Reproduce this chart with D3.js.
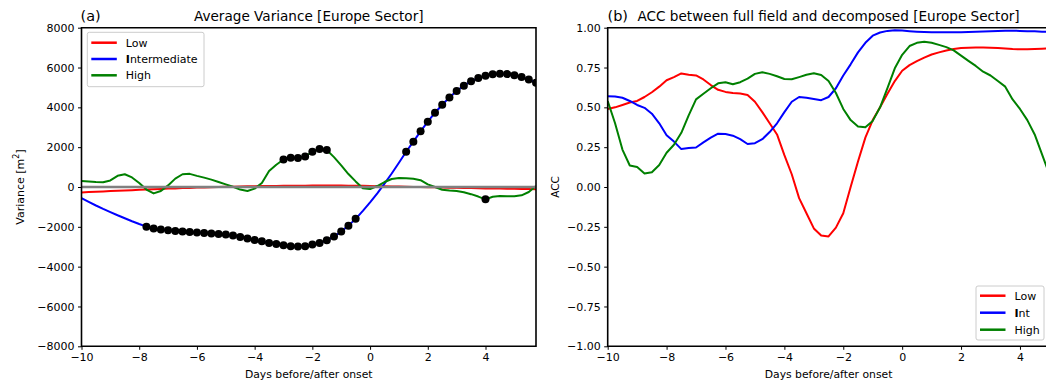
<!DOCTYPE html>
<html>
<head>
<meta charset="utf-8">
<script src="https://cdn.jsdelivr.net/npm/d3@7"></script>
<style>
  body { margin: 0; background: #fff; }
  svg { font-family: "DejaVu Sans", sans-serif; }
</style>
</head>
<body>
<div id="chart"></div>
<script>
// days before/after onset, 6-hourly
const days = [
  -10, -9.75, -9.5, -9.25, -9, -8.75, -8.5, -8.25, -8, -7.75, -7.5, -7.25, -7, -6.75, -6.5, -6.25,
  -6, -5.75, -5.5, -5.25, -5, -4.75, -4.5, -4.25, -4, -3.75, -3.5, -3.25, -3, -2.75, -2.5, -2.25,
  -2, -1.75, -1.5, -1.25, -1, -0.75, -0.5, -0.25, 0, 0.25, 0.5, 0.75, 1, 1.25, 1.5, 1.75,
  2, 2.25, 2.5, 2.75, 3, 3.25, 3.5, 3.75, 4, 4.25, 4.5, 4.75, 5, 5.25, 5.5, 5.75
];

// (a) average variance [m^2]
const varLow = [
  -270, -255, -240, -225, -205, -190, -175, -160, -140, -125, -110, -95, -80, -70, -55, -45,
  -30, -20, -10, 0, 10, 18, 25, 32, 40, 45, 50, 55, 60, 62, 65, 68,
  70, 70, 70, 70, 70, 68, 65, 60, 50, 42, 35, 27, 20, 12, 5, -2,
  -10, -18, -25, -32, -40, -48, -55, -62, -70, -75, -80, -85, -90, -97, -104, -110
];
const varInt = [
  -560, -750, -930, -1100, -1260, -1420, -1570, -1720, -1860, -1990, -2090, -2140, -2175, -2210, -2240, -2260,
  -2290, -2310, -2330, -2360, -2390, -2440, -2510, -2590, -2660, -2730, -2810, -2860, -2930, -2980, -2990, -2980,
  -2890, -2810, -2680, -2490, -2240, -1940, -1600, -1200, -770, -320, 170, 680, 1220, 1770, 2275, 2795,
  3280, 3730, 4130, 4500, 4820, 5090, 5310, 5470, 5590, 5660, 5690, 5670, 5610, 5520, 5400, 5230
];
const varHigh = [
  300, 280, 250, 235, 330, 560, 640, 480, 200, -130, -320, -200, 80, 420, 640, 660,
  560, 470, 370, 250, 130, 10, -130, -200, -80, 200, 800, 1120, 1380, 1470, 1460, 1530,
  1770, 1910, 1860, 1500, 1090, 650, 280, -60, -100, 50, 250, 400, 450, 440, 410, 340,
  130, 0, -140, -180, -200, -260, -360, -480, -620, -490, -450, -460, -470, -420, -250, 50
];
// days marked with a dot
const intDots = [
  -7.75, -7.5, -7.25, -7, -6.75, -6.5, -6.25, -6, -5.75, -5.5, -5.25, -5, -4.75, -4.5, -4.25,
  -4, -3.75, -3.5, -3.25, -3, -2.75, -2.5, -2.25, -2, -1.75, -1.5, -1.25, -1, -0.75, -0.5,
  1.25, 1.5, 1.75, 2, 2.25, 2.5, 2.75, 3, 3.25, 3.5, 3.75, 4, 4.25, 4.5, 4.75, 5, 5.25, 5.5, 5.75
];
const highDots = [-3, -2.75, -2.5, -2.25, -2, -1.75, -1.5, 4];

// (b) ACC, days -10 .. 5
const accLow = [
  0.49, 0.50, 0.515, 0.53, 0.54, 0.565, 0.595, 0.63, 0.67, 0.69, 0.713, 0.705, 0.70, 0.675, 0.64, 0.61,
  0.597, 0.59, 0.587, 0.578, 0.535, 0.47, 0.40, 0.33, 0.20, 0.08, -0.07, -0.165, -0.26, -0.305, -0.31, -0.255,
  -0.165, 0.0, 0.16, 0.31, 0.42, 0.50, 0.585, 0.665, 0.73, 0.765, 0.79, 0.812, 0.832, 0.845, 0.857, 0.866,
  0.872, 0.874, 0.875, 0.875, 0.874, 0.872, 0.87, 0.866, 0.864, 0.864, 0.866, 0.868, 0.87
];
const accInt = [
  0.57, 0.568, 0.56, 0.54, 0.515, 0.497, 0.46, 0.40, 0.325, 0.285, 0.238, 0.245, 0.248, 0.28, 0.31, 0.335,
  0.333, 0.322, 0.30, 0.27, 0.275, 0.30, 0.345, 0.40, 0.47, 0.535, 0.565, 0.56, 0.552, 0.545, 0.565, 0.62,
  0.70, 0.77, 0.845, 0.905, 0.95, 0.97, 0.98, 0.984, 0.982, 0.978, 0.975, 0.973, 0.972, 0.971, 0.971, 0.972,
  0.972, 0.973, 0.974, 0.976, 0.978, 0.98, 0.981, 0.981, 0.98, 0.978, 0.977, 0.975, 0.973
];
const accHigh = [
  0.54, 0.40, 0.235, 0.135, 0.125, 0.085, 0.093, 0.138, 0.215, 0.265, 0.34, 0.45, 0.55, 0.585, 0.62, 0.651,
  0.657, 0.645, 0.658, 0.68, 0.71, 0.72, 0.71, 0.695, 0.678, 0.676, 0.69, 0.705, 0.714, 0.703, 0.665, 0.59,
  0.49, 0.42, 0.38, 0.375, 0.415, 0.50, 0.62, 0.745, 0.83, 0.885, 0.905, 0.912, 0.905, 0.892, 0.878, 0.858,
  0.825, 0.792, 0.76, 0.724, 0.70, 0.665, 0.63, 0.55, 0.49, 0.42, 0.33, 0.205, 0.08
];

const xTicks = [-10, -8, -6, -4, -2, 0, 2, 4];
const varTicks = [-8000, -6000, -4000, -2000, 0, 2000, 4000, 6000, 8000];
const accTicks = [-1, -0.75, -0.5, -0.25, 0, 0.25, 0.5, 0.75, 1];

const colors = { low: '#ff0000', int: '#0000ff', high: '#008000' };

const W = 1046, H = 385;
const plotTop = 27.7, plotBottom = 346.3;

const svg = d3.select('#chart').append('svg')
  .attr('width', W).attr('height', H);

function drawPanel(opts) {
  const x = d3.scaleLinear().domain(opts.xDomain).range([opts.left, opts.right]);
  const y = d3.scaleLinear().domain(opts.yDomain).range([plotBottom, plotTop]);
  const g = svg.append('g');

  g.append('clipPath').attr('id', opts.id + '-clip')
    .append('rect')
    .attr('x', opts.left).attr('y', plotTop)
    .attr('width', opts.right - opts.left).attr('height', plotBottom - plotTop);

  const plot = g.append('g').attr('clip-path', 'url(#' + opts.id + '-clip)');

  // axes
  const xAxis = g.append('g')
    .attr('transform', 'translate(0,' + plotBottom + ')')
    .call(d3.axisBottom(x).tickValues(xTicks).tickFormat(d3.format('d'))
      .tickSize(3.5).tickPadding(3.5).tickSizeOuter(0));
  const yAxis = g.append('g')
    .attr('transform', 'translate(' + opts.left + ',0)')
    .call(d3.axisLeft(y).tickValues(opts.yTicks).tickFormat(opts.yFormat)
      .tickSize(3.5).tickPadding(3.5).tickSizeOuter(0));
  [xAxis, yAxis].forEach(ax => {
    ax.select('.domain').remove();
    ax.selectAll('text').attr('font-size', 11).attr('fill', '#000')
      .attr('font-family', '"DejaVu Sans", sans-serif');
    ax.selectAll('line').attr('stroke', '#000').attr('stroke-width', 1);
  });

  return { x, y, g, plot };
}

function drawLine(plot, x, y, xs, ys, color, width) {
  const line = d3.line().x((d, i) => x(xs[i])).y(d => y(d));
  plot.append('path')
    .datum(ys)
    .attr('d', line)
    .attr('fill', 'none')
    .attr('stroke', color)
    .attr('stroke-width', width)
    .attr('stroke-linejoin', 'round');
}

function drawSpines(g, left, right, showRight) {
  const s = g.append('g').attr('stroke', '#000').attr('stroke-width', 1.6).attr('fill', 'none');
  s.append('line').attr('x1', left).attr('x2', left).attr('y1', plotTop - 0.8).attr('y2', plotBottom + 0.8);
  s.append('line').attr('x1', left).attr('x2', right).attr('y1', plotBottom).attr('y2', plotBottom);
  s.append('line').attr('x1', left).attr('x2', right).attr('y1', plotTop).attr('y2', plotTop);
  if (showRight) {
    s.append('line').attr('x1', right).attr('x2', right).attr('y1', plotTop - 0.8).attr('y2', plotBottom + 0.8);
  }
}

function drawLegend(g, x0, y0, w, h, rows, rowGap, names) {
  const lg = g.append('g');
  lg.append('rect')
    .attr('x', x0).attr('y', y0).attr('width', w).attr('height', h)
    .attr('rx', 2).attr('fill', '#fff').attr('fill-opacity', 0.8)
    .attr('stroke', '#cccccc').attr('stroke-width', 1);
  names.forEach((n, i) => {
    const yy = y0 + rows + i * rowGap;
    lg.append('line')
      .attr('x1', x0 + 4).attr('x2', x0 + 29.5)
      .attr('y1', yy).attr('y2', yy)
      .attr('stroke', n.color).attr('stroke-width', 2.5);
    const t = lg.append('text')
      .attr('x', x0 + 38.5).attr('y', yy).attr('dy', '0.36em')
      .attr('font-size', 11).attr('fill', '#000');
    if (n.label[0] === 'I') {
      t.append('tspan').attr('font-weight', 'bold').text('I');
      t.append('tspan').text(n.label.slice(1));
    } else {
      t.text(n.label);
    }
  });
}

// ---------- panel (a) ----------
const pa = drawPanel({
  id: 'a', left: 81.5, right: 536, xDomain: [-10, 5.75], yDomain: [-8000, 8000],
  yTicks: varTicks, yFormat: d3.format('d')
});
drawLine(pa.plot, pa.x, pa.y, days, varLow, colors.low, 2);
drawLine(pa.plot, pa.x, pa.y, days, varInt, colors.int, 2);
drawLine(pa.plot, pa.x, pa.y, days, varHigh, colors.high, 2);
pa.plot.append('line')
  .attr('x1', pa.x(-10)).attr('x2', pa.x(5.75))
  .attr('y1', pa.y(0)).attr('y2', pa.y(0))
  .attr('stroke', '#808080').attr('stroke-width', 2.4);

const dotData = intDots.map(d => [d, varInt[days.indexOf(d)]])
  .concat(highDots.map(d => [d, varHigh[days.indexOf(d)]]));
pa.plot.selectAll('circle.dot')
  .data(dotData)
  .join('circle')
  .attr('class', 'dot')
  .attr('cx', d => pa.x(d[0]))
  .attr('cy', d => pa.y(d[1]))
  .attr('r', 4)
  .attr('fill', '#000');

drawSpines(pa.g, 81.5, 536, true);
drawLegend(pa.g, 87.3, 32.3, 116.7, 54.4, 10.4, 16.3, [
  { label: 'Low', color: colors.low },
  { label: 'Intermediate', color: colors.int },
  { label: 'High', color: colors.high }
]);

pa.g.append('text').attr('x', 80.5).attr('y', 20.5).attr('font-size', 14.5).text('(a)');
pa.g.append('text').attr('x', (81.5 + 536) / 2).attr('y', 20.7)
  .attr('text-anchor', 'middle').attr('font-size', 13.6).text('Average Variance [Europe Sector]');
pa.g.append('text').attr('x', (81.5 + 536) / 2).attr('y', 378)
  .attr('text-anchor', 'middle').attr('font-size', 10.8).text('Days before/after onset');
const yl = pa.g.append('text')
  .attr('transform', 'translate(23.5,' + ((plotTop + plotBottom) / 2) + ') rotate(-90)')
  .attr('text-anchor', 'middle').attr('font-size', 11);
yl.append('tspan').text('Variance [m');
yl.append('tspan').attr('font-size', 8).attr('dy', -4.8).text('2');
yl.append('tspan').attr('dy', 4.8).text(']');

// ---------- panel (b) ----------
const pb = drawPanel({
  id: 'b', left: 607.7, right: 1049.4, xDomain: [-10, 5], yDomain: [-1, 1],
  yTicks: accTicks, yFormat: d3.format('.2f')
});
const accDays = days.slice(0, accLow.length);
drawLine(pb.plot, pb.x, pb.y, accDays, accLow, colors.low, 2);
drawLine(pb.plot, pb.x, pb.y, accDays, accInt, colors.int, 2);
drawLine(pb.plot, pb.x, pb.y, accDays, accHigh, colors.high, 2);

drawSpines(pb.g, 607.7, 1049.4, true);
drawLegend(pb.g, 976, 286, 68, 54, 9.7, 17, [
  { label: 'Low', color: colors.low },
  { label: 'Int', color: colors.int },
  { label: 'High', color: colors.high }
]);

pb.g.append('text').attr('x', 607.5).attr('y', 20.5).attr('font-size', 14.5).text('(b)');
pb.g.append('text').attr('x', (607.7 + 1049.4) / 2).attr('y', 20.7)
  .attr('text-anchor', 'middle').attr('font-size', 13.6)
  .text('ACC between full field and decomposed [Europe Sector]');
pb.g.append('text').attr('x', (607.7 + 1049.4) / 2).attr('y', 378)
  .attr('text-anchor', 'middle').attr('font-size', 10.8).text('Days before/after onset');
pb.g.append('text')
  .attr('transform', 'translate(558.5,' + ((plotTop + plotBottom) / 2) + ') rotate(-90)')
  .attr('text-anchor', 'middle').attr('font-size', 10.5).text('ACC');
</script>
</body>
</html>
